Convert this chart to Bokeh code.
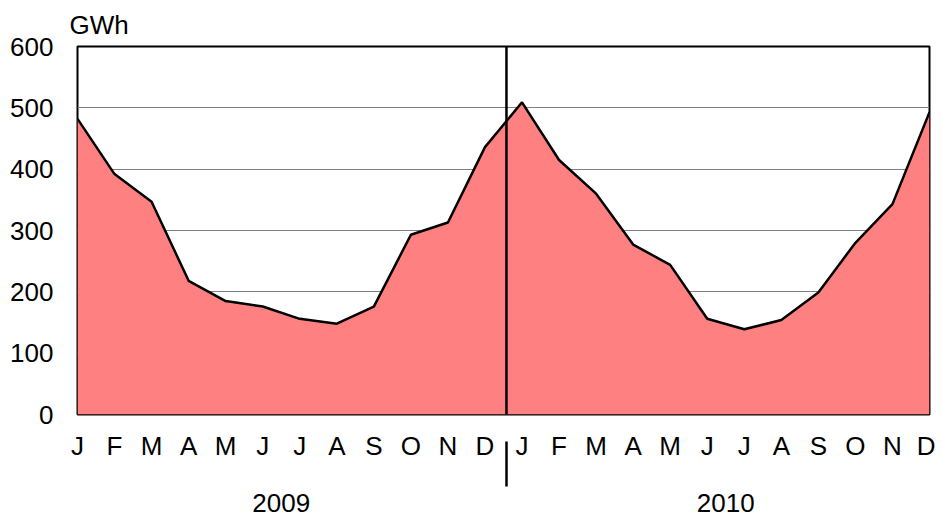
from bokeh.plotting import figure
from bokeh.models import Range1d, FixedTicker, Span, LinearAxis
from bokeh.embed import file_html
from bokeh.resources import INLINE

months = ["J", "F", "M", "A", "M", "J", "J", "A", "S", "O", "N", "D"]
years = ["2009", "2010"]
gwh_2009 = [482, 392, 347, 218, 185, 176, 156, 148, 176, 293, 313, 436]
gwh_2010 = [509, 415, 360, 277, 244, 156, 139, 154, 199, 280, 343, 493]
y_ticks = [0, 100, 200, 300, 400, 500, 600]

values = gwh_2009 + gwh_2010
xs = list(range(len(values)))
labels = months + months
year_pos = [5.5, 17.5]
sep_x = 11.58

FONT = "Liberation Sans"
FS = "26px"

p = figure(width=935, height=516, output_backend="svg", toolbar_location=None,
           x_range=Range1d(0, len(values) - 1), y_range=Range1d(0, 600),
           min_border_left=77, min_border_right=6, min_border_top=46, min_border_bottom=102)

p.title.text = "GWh"
p.title.text_font = FONT
p.title.text_font_size = FS
p.title.text_font_style = "normal"
p.title.text_color = "black"
p.title.align = "left"
p.title.offset = -8
p.title.standoff = 14

p.outline_line_color = "black"
p.outline_line_width = 2
p.background_fill_color = "white"
p.border_fill_color = "white"

p.xgrid.grid_line_color = None
p.ygrid.grid_line_color = "#808080"
p.ygrid.grid_line_width = 1
p.yaxis.ticker = FixedTicker(ticks=y_ticks)

p.varea(x=xs, y1=[0] * len(values), y2=values, fill_color="#FF8080", fill_alpha=1)
p.line(x=xs, y=values, line_color="black", line_width=2.5)

p.add_layout(Span(location=sep_x, dimension="height", line_color="black", line_width=2.5))

def style(ax):
    ax.axis_line_color = None
    ax.major_tick_line_color = None
    ax.minor_tick_line_color = None
    ax.major_tick_out = 0
    ax.major_tick_in = 0
    ax.minor_tick_out = 0
    ax.minor_tick_in = 0
    ax.major_label_text_font = FONT
    ax.major_label_text_font_size = FS
    ax.major_label_text_color = "black"

style(p.xaxis[0])
style(p.yaxis[0])
p.xaxis.ticker = FixedTicker(ticks=xs)
p.xaxis.major_label_overrides = {i: labels[i] for i in xs}
p.xaxis.major_label_standoff = 16
p.yaxis.major_label_standoff = 24

year_axis = LinearAxis()
style(year_axis)
year_axis.ticker = FixedTicker(ticks=year_pos, minor_ticks=[sep_x])
year_axis.major_label_overrides = {year_pos[i]: years[i] for i in range(len(years))}
year_axis.minor_tick_line_color = "black"
year_axis.minor_tick_line_width = 2.5
year_axis.minor_tick_in = 22
year_axis.minor_tick_out = 23
year_axis.major_label_standoff = 7
p.add_layout(year_axis, "below")

open("out.html", "w").write(file_html(p, INLINE))
